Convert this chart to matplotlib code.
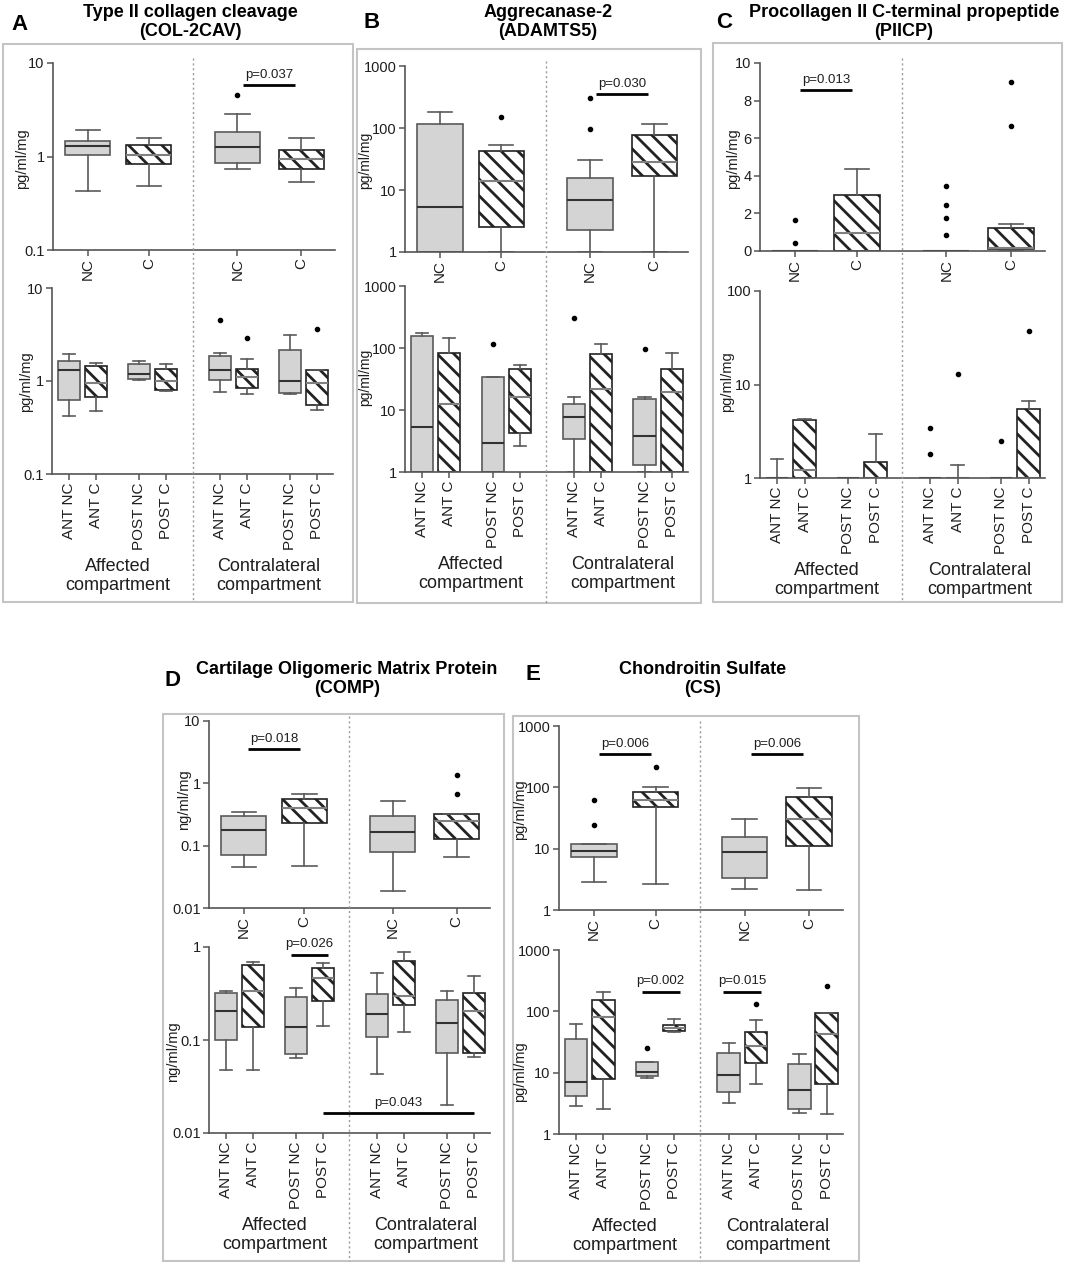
import matplotlib
matplotlib.use("Agg")
import matplotlib.pyplot as plt
from matplotlib.lines import Line2D
from matplotlib.patches import Rectangle
from matplotlib.ticker import NullLocator

plt.rcParams['font.family'] = ['Liberation Sans', 'DejaVu Sans']
plt.rcParams['hatch.linewidth'] = 2.0

# each box: [whisker low, Q1, median, Q3, whisker high]
top_labels = ["NC", "C", "NC", "C"]
bot_labels = ["ANT NC", "ANT C", "POST NC", "POST C"] * 2
compartments = ["Affected\ncompartment", "Contralateral\ncompartment"]

# A - Type II collagen cleavage (COL-2CAV)
a_top_box = [[0.43, 1.04, 1.30, 1.48, 1.92],
             [0.48, 0.83, 1.05, 1.33, 1.59],
             [0.73, 0.85, 1.25, 1.83, 2.84],
             [0.53, 0.73, 0.95, 1.18, 1.59]]
a_top_out = [[], [], [4.5], []]
a_top_p = [(2, 3, 5.75, "p=0.037")]
a_bot_box = [[0.42, 0.63, 1.30, 1.66, 1.93],
             [0.48, 0.67, 0.95, 1.45, 1.57],
             [1.02, 1.05, 1.20, 1.51, 1.66],
             [0.78, 0.81, 1.00, 1.36, 1.51],
             [0.77, 1.02, 1.30, 1.88, 2.01],
             [0.72, 0.85, 1.10, 1.33, 1.73],
             [0.73, 0.74, 1.00, 2.17, 3.16],
             [0.49, 0.55, 0.95, 1.30, 1.32]]
a_bot_out = [[], [], [], [], [4.58], [2.91], [], [3.64]]
a_bot_p = []

# B - Aggrecanase-2 (ADAMTS5)
b_top_box = [[1, 1, 5.3, 116, 178],
             [1, 2.55, 14, 43, 53],
             [1, 2.28, 6.9, 15.8, 30.5],
             [1, 16.9, 28.6, 77, 118]]
b_top_out = [[], [151], [310, 96], []]
b_top_p = [(2, 3, 351, "p=0.030")]
b_bot_box = [[1, 1, 5.3, 156, 176],
             [1, 1, 12.3, 84, 147],
             [1, 1, 2.92, 34, 34],
             [2.58, 4.2, 16, 45.5, 53],
             [1, 3.38, 7.8, 12.5, 16.4],
             [1, 1, 21.7, 81, 117],
             [1, 1.31, 3.87, 14.8, 16],
             [1, 1, 19.2, 46.6, 84]]
b_bot_out = [[], [], [117], [], [307], [], [95], []]
b_bot_p = []

# C - Procollagen II C-terminal propeptide (PIICP)
c_top_box = [[0, 0, 0, 0, 0],
             [0, 0, 0.96, 2.96, 4.38],
             [0, 0, 0, 0, 0],
             [0, 0.1, 0.15, 1.24, 1.42]]
c_top_out = [[1.63, 0.43], [], [3.46, 2.46, 1.77, 0.87], [8.99, 6.63]]
c_top_p = [(0, 1, 8.58, "p=0.013")]
c_bot_box = [[1, 1, 1, 1, 1.61],
             [1, 1, 1.23, 4.15, 4.32],
             [1, 1, 1, 1, 1],
             [1, 1, 1, 1.48, 2.99],
             [1, 1, 1, 1, 1],
             [1, 1, 1, 1, 1.39],
             [1, 1, 1, 1, 1],
             [1, 1, 1, 5.53, 6.68]]
c_bot_out = [[], [], [], [], [3.46, 1.79], [13.1], [2.47], [37.3]]
c_bot_p = []

# D - Cartilage Oligomeric Matrix Protein (COMP)
d_top_box = [[0.046, 0.072, 0.18, 0.297, 0.35],
             [0.047, 0.227, 0.40, 0.57, 0.67],
             [0.019, 0.079, 0.167, 0.30, 0.52],
             [0.065, 0.126, 0.25, 0.32, 0.32]]
d_top_out = [[], [], [], [1.36, 0.67]]
d_top_p = [(0, 1, 3.5, "p=0.018")]
d_bot_box = [[0.047, 0.10, 0.206, 0.324, 0.338],
             [0.048, 0.139, 0.34, 0.64, 0.69],
             [0.064, 0.071, 0.137, 0.29, 0.36],
             [0.141, 0.26, 0.46, 0.59, 0.67],
             [0.043, 0.107, 0.19, 0.31, 0.52],
             [0.123, 0.24, 0.30, 0.71, 0.88],
             [0.0198, 0.072, 0.151, 0.27, 0.335],
             [0.065, 0.072, 0.206, 0.32, 0.485]]
d_bot_out = [[], [], [], [], [], [], [], []]
d_bot_p = [(2, 3, 0.83, "p=0.026"), (3, 7, 0.0164, "p=0.043")]

# E - Chondroitin Sulfate (CS)
e_top_box = [[2.9, 7.2, 9.2, 11.9, 11.9],
             [2.62, 47, 62, 85, 103],
             [2.17, 3.36, 8.9, 15.3, 31],
             [2.12, 11, 31, 69, 96]]
e_top_out = [[62, 24.3], [217], [], []]
e_top_p = [(0, 1, 345, "p=0.006"), (2, 3, 345, "p=0.006")]
e_bot_box = [[2.9, 4.2, 7.1, 35, 61],
             [2.56, 8, 82, 153, 210],
             [8.3, 8.8, 10.4, 14.7, 14.7],
             [46, 47, 53, 60, 75],
             [3.16, 4.9, 9.2, 20.7, 31],
             [6.5, 14.2, 27, 46.6, 72],
             [2.17, 2.6, 5.2, 13.8, 20],
             [2.12, 6.45, 42.6, 93, 93]]
e_bot_out = [[], [], [25], [], [], [130], [], [262]]
e_bot_p = [(2, 3, 210, "p=0.002"), (4, 5, 210, "p=0.015")]

W, H = 1065, 1267
fig = plt.figure(figsize=(W / 100, H / 100), dpi=100)

TOP_POS = [1, 2, 3.45, 4.5]
TOP_XLIM = (0.43, 5.05)
BOT_POS = [1, 2, 3.6, 4.6, 6.6, 7.6, 9.2, 10.2]
BOT_XLIM = (0.37, 10.8)
AXC = '#555555'
TXT = '#1e1e1e'


def rect(x0, y0, x1, y1):
    return [x0 / W, 1 - y1 / H, (x1 - x0) / W, (y1 - y0) / H]


def data_to_px(xv, xlim, x0, x1):
    return x0 + (xv - xlim[0]) / (xlim[1] - xlim[0]) * (x1 - x0)


def box_axes(px, boxes, outs, labels, pos, xlim, bw, cw, scale, ylim, yticks, ytl, pvals, barw):
    ax = fig.add_axes(rect(*px))
    if scale == 'log':
        ax.set_yscale('log')
    stats = [dict(whislo=b[0], q1=b[1], med=b[2], q3=b[3], whishi=b[4], fliers=o)
             for b, o in zip(boxes, outs)]
    art = ax.bxp(stats, positions=pos, widths=bw, capwidths=cw, patch_artist=True,
                 manage_ticks=False,
                 boxprops=dict(linewidth=1.2),
                 whiskerprops=dict(color='#5a5a5a', linewidth=1.2),
                 capprops=dict(color='#5a5a5a', linewidth=1.2),
                 medianprops=dict(color='#333333', linewidth=1.5),
                 flierprops=dict(marker='o', markersize=3, markerfacecolor='black',
                                 markeredgecolor='black', linestyle='none'))
    for i, patch in enumerate(art['boxes']):
        if i % 2 == 0:
            patch.set_facecolor('#d4d4d4')
            patch.set_edgecolor('#5a5a5a')
        else:
            patch.set_facecolor('white')
            patch.set_edgecolor('#222222')
            patch.set_hatch('\\\\')
    for i, med in enumerate(art['medians']):
        if i % 2 == 1:
            med.set_color('#808080')
    ax.set_xlim(xlim)
    ax.set_ylim(ylim)
    ax.set_xticks(pos)
    ax.set_xticklabels(labels, rotation=90, fontsize=11, color=TXT)
    ax.set_yticks(yticks)
    ax.set_yticklabels(ytl, fontsize=10.5, color=TXT)
    ax.yaxis.set_minor_locator(NullLocator())
    for s in ['top', 'right']:
        ax.spines[s].set_visible(False)
    for s in ['left', 'bottom']:
        ax.spines[s].set_color(AXC)
        ax.spines[s].set_linewidth(1.2)
    ax.tick_params(direction='out', length=4, width=1.1, color=AXC, pad=2)
    ax.patch.set_alpha(0)
    for i, j, y, txt in pvals:
        if j - i == 1:
            m = (pos[i] + pos[j]) / 2
            xa, xb = m - barw / 2, m + barw / 2
        else:
            xa, xb = pos[i], pos[j]
        ax.plot([xa, xb], [y, y], color='black', lw=2, clip_on=False, solid_capstyle='butt')
        ax.annotate(txt, xy=((xa + xb) / 2, y), xytext=(0, 3), textcoords='offset points',
                    ha='center', va='bottom', fontsize=9.5, color=TXT)
    return ax


panels = [
    dict(letter='A', title='Type II collagen cleavage\n(COL-2CAV)', frame=(3, 44, 353, 602),
         top=(53, 63, 335, 250), bot=(52, 288, 333, 474), letter_xy=(20, 24), title_xy=(190, 22),
         ylab='pg/ml/mg', ylab_x=(22, 26), ylab_y=(159, 382), ylab_fs=10.5,
         top_data=(a_top_box, a_top_out, a_top_p), bot_data=(a_bot_box, a_bot_out, a_bot_p),
         top_scale='log', top_ylim=(0.1, 10), top_ticks=[0.1, 1, 10], top_tl=['0.1', '1', '10'],
         bot_ylim=(0.1, 10), bot_ticks=[0.1, 1, 10], bot_tl=['0.1', '1', '10']),
    dict(letter='B', title='Aggrecanase-2\n(ADAMTS5)', frame=(357, 49, 701, 603),
         top=(405, 66, 688, 252), bot=(405, 286, 688, 472), letter_xy=(372, 22), title_xy=(548, 22),
         ylab='pg/ml/mg', ylab_x=(365, 365), ylab_y=(160, 377), ylab_fs=10,
         top_data=(b_top_box, b_top_out, b_top_p), bot_data=(b_bot_box, b_bot_out, b_bot_p),
         top_scale='log', top_ylim=(1, 1000), top_ticks=[1, 10, 100, 1000],
         top_tl=['1', '10', '100', '1000'],
         bot_ylim=(1, 1000), bot_ticks=[1, 10, 100, 1000], bot_tl=['1', '10', '100', '1000']),
    dict(letter='C', title='Procollagen II C-terminal propeptide\n(PIICP)', frame=(713, 43, 1062, 602),
         top=(760, 63, 1045, 251), bot=(760, 291, 1045, 478), letter_xy=(724, 23), title_xy=(904, 22),
         ylab='pg/ml/mg', ylab_x=(733, 727), ylab_y=(159, 382), ylab_fs=10.5,
         top_data=(c_top_box, c_top_out, c_top_p), bot_data=(c_bot_box, c_bot_out, c_bot_p),
         top_scale='linear', top_ylim=(0, 10), top_ticks=[0, 2, 4, 6, 8, 10],
         top_tl=['0', '2', '4', '6', '8', '10'],
         bot_ylim=(1, 100), bot_ticks=[1, 10, 100], bot_tl=['1', '10', '100']),
    dict(letter='D', title='Cartilage Oligomeric Matrix Protein\n(COMP)', frame=(163, 714, 504, 1261),
         top=(209, 721, 490, 908), bot=(209, 947, 490, 1133), letter_xy=(172, 680), title_xy=(347, 679),
         ylab='ng/ml/mg', ylab_x=(184, 173), ylab_y=(800, 1052), ylab_fs=10.5,
         top_data=(d_top_box, d_top_out, d_top_p), bot_data=(d_bot_box, d_bot_out, d_bot_p),
         top_scale='log', top_ylim=(0.01, 10), top_ticks=[0.01, 0.1, 1, 10],
         top_tl=['0.01', '0.1', '1', '10'],
         bot_ylim=(0.01, 1), bot_ticks=[0.01, 0.1, 1], bot_tl=['0.01', '0.1', '1']),
    dict(letter='E', title='Chondroitin Sulfate\n(CS)', frame=(513, 716, 859, 1261),
         top=(559, 726, 843, 910), bot=(559, 950, 843, 1134), letter_xy=(533, 675), title_xy=(703, 679),
         ylab='pg/ml/mg', ylab_x=(520, 520), ylab_y=(810, 1072), ylab_fs=10.5,
         top_data=(e_top_box, e_top_out, e_top_p), bot_data=(e_bot_box, e_bot_out, e_bot_p),
         top_scale='log', top_ylim=(1, 1000), top_ticks=[1, 10, 100, 1000],
         top_tl=['1', '10', '100', '1000'],
         bot_ylim=(1, 1000), bot_ticks=[1, 10, 100, 1000], bot_tl=['1', '10', '100', '1000']),
]

for p in panels:
    x0, y0, x1, y1 = p['frame']
    fig.add_artist(Rectangle((x0 / W, 1 - y1 / H), (x1 - x0) / W, (y1 - y0) / H,
                             transform=fig.transFigure, fill=False,
                             edgecolor='#c4c4c4', linewidth=1.5))
    fig.text(p['letter_xy'][0] / W, 1 - p['letter_xy'][1] / H, p['letter'],
             fontsize=16, fontweight='bold', ha='center', va='center')
    fig.text(p['title_xy'][0] / W, 1 - p['title_xy'][1] / H, p['title'],
             fontsize=13, fontweight='bold', ha='center', va='center', linespacing=1.15)

    tb, to, tp = p['top_data']
    box_axes(p['top'], tb, to, top_labels, TOP_POS, TOP_XLIM, 0.74, 0.4,
             p['top_scale'], p['top_ylim'], p['top_ticks'], p['top_tl'], tp, 0.85)
    bb, bo, bp = p['bot_data']
    box_axes(p['bot'], bb, bo, bot_labels, BOT_POS, BOT_XLIM, 0.82, 0.45,
             'log', p['bot_ylim'], p['bot_ticks'], p['bot_tl'], bp, 1.4)

    # y labels
    for lx, ly in zip(p['ylab_x'], p['ylab_y']):
        fig.text(lx / W, 1 - ly / H, p['ylab'], rotation=90,
                 fontsize=p['ylab_fs'], ha='center', va='center', color=TXT)

    # divider between compartments
    tx0, ty0, tx1, ty1 = p['top']
    xd = data_to_px((TOP_POS[1] + TOP_POS[2]) / 2, TOP_XLIM, tx0, tx1)
    fig.add_artist(Line2D([xd / W, xd / W], [1 - (ty0 - 5) / H, 1 - y1 / H],
                          transform=fig.transFigure, color='#9a9a9a', lw=1,
                          linestyle=(0, (1.5, 2))))

    # compartment labels
    bx0, by0, bx1, by1 = p['bot']
    for k, name in enumerate(compartments):
        cx = data_to_px(sum(BOT_POS[4 * k:4 * k + 4]) / 4, BOT_XLIM, bx0, bx1)
        fig.text(cx / W, 1 - (by1 + 102) / H, name, fontsize=13, ha='center', va='center',
                 color=TXT, linespacing=1.1)

fig.savefig('out.png', dpi=100)
